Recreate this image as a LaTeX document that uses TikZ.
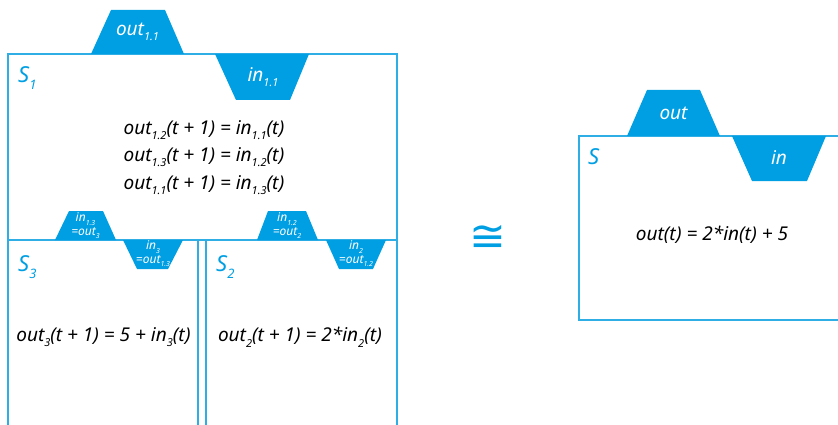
\documentclass[tikz,border=0pt]{standalone}
\usepackage{fontspec}
\setmainfont{Noto Sans}
\newfontfamily\symbolfont{DejaVu Sans}
\usetikzlibrary{positioning}
\definecolor{portblue}{HTML}{009FE3}
\definecolor{boxblue}{HTML}{2FAEE6}
\newcommand{\lowsub}[2][11]{\raisebox{-0.55ex}{\fontsize{#1}{#1}\selectfont #2}}

\begin{document}
\begin{tikzpicture}[
  x=1pt, y=-1pt,
  sysbox/.style={draw=boxblue, line width=1.5pt},
  port/.style={fill=portblue},
  portlabel/.style={text=white, font=\fontsize{19}{22}\selectfont\itshape, inner sep=0pt},
  smalllabel/.style={text=white, font=\fontsize{12}{13.5}\selectfont\itshape, align=center, inner sep=0pt},
  eq/.style={font=\fontsize{19}{22}\selectfont\itshape, inner sep=0pt},
  sysname/.style={text=portblue, font=\fontsize{22}{24}\selectfont\bfseries\itshape, anchor=west, inner sep=0pt},
]
\useasboundingbox (0,0) rectangle (838,425);
\clip (0,0) rectangle (838,425);

% composite system S1 with S3 and S2 inside
\draw[sysbox] (8,54) rectangle (397,240);
\draw[sysbox] (8,240) rectangle (198,440);
\draw[sysbox] (206,240) rectangle (397,440);

\fill[port] (91,54) -- (111,10) -- (165,10) -- (184,54) -- cycle;
\node[portlabel] (out11) at (137.5,32) {out\lowsub{1.1}};
\fill[port] (215,54) -- (309,54) -- (290,100) -- (236,100) -- cycle;
\node[portlabel] (in11) at (263,77) {in\lowsub{1.1}};

\node[sysname] (S1) at (18,78) {S\lowsub[13]{1}};
\node[eq] (eq1) at (204,130) {out\lowsub{1.2}(t + 1) = in\lowsub{1.1}(t)};
\node[eq] (eq2) at (204,157) {out\lowsub{1.3}(t + 1) = in\lowsub{1.2}(t)};
\node[eq] (eq3) at (204,185) {out\lowsub{1.1}(t + 1) = in\lowsub{1.3}(t)};

% ports of S3
\fill[port] (55,240) -- (69,211) -- (103,211) -- (116,240) -- cycle;
\node[smalllabel] (in13) at (85.5,226) {in\lowsub[7]{1.3}\\=out\lowsub[7]{3}};
\fill[port] (123,240) -- (183,240) -- (168,269) -- (137,269) -- cycle;
\node[smalllabel] (in3) at (153,254) {in\lowsub[7]{3}\\=out\lowsub[7]{1.3}};

% ports of S2
\fill[port] (257,240) -- (268,211) -- (306,211) -- (318,240) -- cycle;
\node[smalllabel] (in12) at (287,226) {in\lowsub[7]{1.2}\\=out\lowsub[7]{2}};
\fill[port] (326,240) -- (386,240) -- (373,269) -- (339,269) -- cycle;
\node[smalllabel] (in2) at (356,254) {in\lowsub[7]{2}\\=out\lowsub[7]{1.2}};

\node[sysname] (S3) at (18,267) {S\lowsub[13]{3}};
\node[sysname] (S2) at (216,267) {S\lowsub[13]{2}};
\node[eq] (eqS3) at (103.5,337) {out\lowsub{3}(t + 1) = 5 + in\lowsub{3}(t)};
\node[eq] (eqS2) at (300,337) {out\lowsub{2}(t + 1) = 2*in\lowsub{2}(t)};

% equivalence
\node[text=portblue, font=\symbolfont\fontsize{44}{44}\selectfont, inner sep=0pt] (iso) at (488,238) {≅};

% simple system S
\draw[sysbox] (579,136) rectangle (860,320);
\fill[port] (627,136) -- (647,90) -- (700,90) -- (720,136) -- cycle;
\node[portlabel] (out) at (673.5,113) {out};
\fill[port] (732,136) -- (826,136) -- (807,181) -- (752,181) -- cycle;
\node[portlabel] (in) at (779,158) {in};
\node[sysname] (S) at (588,157) {S};
\node[eq] (eqS) at (712,235) {out(t) = 2*in(t) + 5};
\end{tikzpicture}
\end{document}
